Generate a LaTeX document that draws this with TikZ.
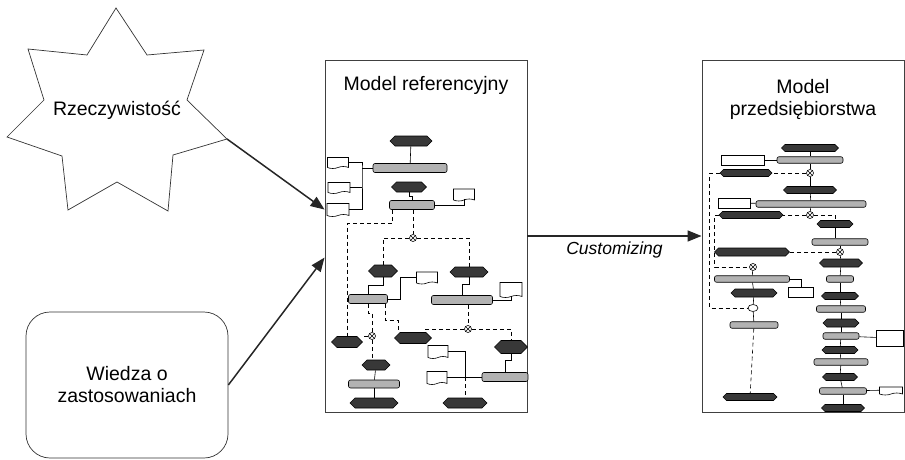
\documentclass[tikz,border=0pt]{standalone}
\usepackage{fontspec}
\setmainfont{Liberation Sans}
\usetikzlibrary{positioning,calc,arrows.meta,shapes.geometric,shapes.symbols}
\tikzset{
	lbl/.style={font=\fontsize{19.5}{22}\selectfont, align=center, inner sep=0pt},
	cust/.style={font=\itshape\fontsize{17.5}{20}\selectfont, inner sep=0pt},
	outl/.style={draw=black!80, line width=0.7pt},
	box/.style={draw=black!75, line width=0.9pt, minimum width=202pt, minimum height=352pt, inner sep=0pt},
	arr/.style={line width=1.5pt, draw=black!85, -{Triangle[length=14pt,width=11pt]}},
	ev/.style={signal, signal to=east and west, draw=black, fill=black!78, inner sep=0pt, minimum height=10pt},
	evs/.style={ev, minimum height=7pt},
	fn/.style={draw=black, fill=black!30, rounded corners=2pt, inner sep=0pt, minimum height=9pt},
	fns/.style={fn, minimum height=6.5pt},
	doc/.style={tape, tape bend top=none, tape bend height=2pt, draw, fill=white, inner sep=0pt},
	folder/.style={draw, fill=white, inner sep=0pt},
	xor/.style={circle, draw, fill=white, inner sep=0pt, minimum size=7pt,
		path picture={\draw[line width=0.4pt] (path picture bounding box.north west) -- (path picture bounding box.south east)
			(path picture bounding box.north east) -- (path picture bounding box.south west);}},
	orx/.style={ellipse, draw, fill=white, inner sep=0pt, minimum width=10pt, minimum height=7pt},
	dsh/.style={dash pattern=on 4pt off 3pt},
}

\begin{document}
\begin{tikzpicture}[x=1pt, y=-1pt]
\useasboundingbox (0,0) rectangle (905,460);

\draw[outl] (116,8) -- (147,55) -- (204,50) -- (187,100) -- (227,139) -- (173,155) -- (168,211)
	-- (117,182) -- (68,210) -- (62,156) -- (7,137) -- (44,100) -- (28,49) -- (87,55) -- cycle;
\coordinate (realtip) at (227,139);
\node[lbl] (realtxt) at (117,110) {Rzeczywisto\'s\'c};
\node[outl, rounded corners=24pt, minimum width=202pt, minimum height=146pt, lbl] (know) at (127,385) {Wiedza o\\zastosowaniach};

\node[box] (refm) at (426,236) {};
\node[box] (ent) at (803,236) {};
\node[lbl, below=17pt of refm.north] (refttl) {Model referencyjny};
\node[lbl, below=20pt of ent.north] (entttl) {Model\\przedsiębiorstwa};

\coordinate (in1) at ($(refm.north west)+(0,150)$);
\coordinate (in2) at ($(refm.north west)+(0,198)$);
\draw[arr] (realtip) -- (in1);
\draw[arr] (know.east) -- (in2);
\draw[arr] (refm.east) -- node[below=5pt, cust] (custlbl) {Customizing} (ent.west);

\begin{scope}[line width=0.6pt]
% Model referencyjny
\node[ev, minimum width=42pt] (re1) at (411,141) {};
\node[fn, minimum width=74pt] (rf1) at (410,168) {};
\node[doc, minimum width=21pt, minimum height=11pt] (rd1) at (338,162) {};
\node[doc, minimum width=22pt, minimum height=11pt] (rd2) at (339,187) {};
\node[doc, minimum width=22pt, minimum height=13pt] (rd3) at (338,209) {};
\node[ev, minimum width=35pt] (re2) at (409,187) {};
\node[fn, minimum width=45pt] (rf2) at (412,205) {};
\node[doc, minimum width=21pt, minimum height=12pt] (rd4) at (464,194) {};
\node[xor] (rx1) at (413,238) {};
\node[ev, minimum width=29pt, minimum height=12pt] (re3) at (383,271) {};
\node[ev, minimum width=38pt] (re4) at (469,272) {};
\node[fn, minimum width=39pt] (rf3) at (368,299) {};
\node[doc, minimum width=21pt, minimum height=12pt] (rd5) at (427,277) {};
\node[fn, minimum width=61pt] (rf4) at (462,300) {};
\node[doc, minimum width=22pt, minimum height=15pt] (rd6) at (511,289) {};
\node[ev, minimum width=31pt, minimum height=11pt] (re5) at (347,342) {};
\node[xor] (rx2) at (372,336) {};
\node[ev, minimum width=28pt] (re6) at (376,365) {};
\node[fn, minimum width=51pt, minimum height=8pt] (rf5) at (374,384) {};
\node[ev, minimum width=48pt] (re7) at (374,403) {};
\node[ev, minimum width=37pt, minimum height=11pt] (re8) at (413,338) {};
\node[xor] (rx3) at (468,329) {};
\node[ev, minimum width=33pt, minimum height=13pt] (re9) at (511,347) {};
\node[fn, minimum width=46pt] (rf6) at (505,377) {};
\node[doc, minimum width=20pt, minimum height=13pt] (rd7) at (438,351) {};
\node[doc, minimum width=20pt, minimum height=13pt] (rd8) at (437,377) {};
\node[ev, minimum width=44pt] (re10) at (465,403) {};

\coordinate (rbus) at (362,168);
\coordinate (rbus2) at (465,377);
\draw (re1) -- (rf1);
\draw (rf1.west) -- (rbus);
\draw (rd1.east) -| (rbus) |- (rd3.east);
\draw (rd2.east) -- (rd2.east -| rbus);
\draw (re2.south) -- ++(0,4) -| (rf2.north);
\draw (rf2.east) -| (rd4.south);
\draw[dsh] (rf2.south -| rx1) -- (rx1.north);
\draw[dsh] (rx1.west) -| (re3.north);
\draw[dsh] (rx1.east) -| (re4.north);
\draw[dsh] ($(rf2.south west)+(3,0)$) |- ($(re5.north)+(0,-113)$) -- (re5.north);
\draw (re3.south) -- ++(0,8) -| (rf3.north);
\draw (rf3.east) -- ++(12,0) |- (rd5.west);
\draw (re4.south) -- ++(0,7) -| (rf4.north);
\draw (rf4.east) -| (rd6.south);
\draw[dsh] (rf3.south) -- ++(0,9) -| (rx2.north);
\draw[dsh] (rx2.west) -- (rx2.west -| re5.east);
\draw[dsh] (rx2.south) -- (rx2.south |- re6.north);
\draw (re6) -- (rf5);
\draw (rf5) -- (re7);
\draw[dsh] ($(rf3.south)+(17,0)$) |- ($(re8.north)+(-15,-12)$) -- ($(re8.north)+(-15,0)$);
\draw[dsh] (rf4.south -| rx3) -- (rx3.north);
\draw[dsh] (rx3.west) -| ($(re8.north)+(12,0)$);
\draw[dsh] (rx3.east) -| (re9.north);
\draw (re9.south) -- ++(0,6) -| (rf6.north);
\draw (rd8.east) -- (rf6.west);
\draw (rd7.east) -| (rbus2);
\draw[dsh] (rbus2) -- (re10.north);

% Model przedsiebiorstwa
\node[evs, minimum width=57pt] (ee1) at (810,148) {};
\node[fns, minimum width=66pt] (ef1) at (810,160) {};
\node[folder, minimum width=43pt, minimum height=10pt] (ed1) at (743,160) {};
\node[xor] (ex1) at (810,173) {};
\node[evs, minimum width=52pt] (ee2) at (746,173) {};
\node[evs, minimum width=53pt] (ee3) at (810,190) {};
\node[fns, minimum width=110pt] (ef2) at (811,204) {};
\node[folder, minimum width=32pt, minimum height=10pt] (ed2) at (734,203) {};
\node[xor] (ex2) at (810,215) {};
\node[evs, minimum width=64pt] (ee4) at (751,215) {};
\node[evs, minimum width=36pt] (ee5) at (835,224) {};
\node[fns, minimum width=56pt] (ef3) at (840,242) {};
\node[xor] (ex3) at (840,252) {};
\node[evs, minimum width=75pt, minimum height=8pt] (ee6) at (752,252) {};
\node[xor] (ex4) at (753,267) {};
\node[fns, minimum width=75pt] (ef4) at (752,279) {};
\node[folder, minimum width=25pt, minimum height=10pt] (ed4) at (801,292) {};
\node[evs, minimum width=46pt, minimum height=8pt] (ee7) at (754,293) {};
\node[orx] (ex5) at (753,308) {};
\node[fns, minimum width=48pt] (ef5) at (754,325) {};
\node[evs, minimum width=54pt] (ee8) at (750,397) {};
\node[evs, minimum width=43pt, minimum height=8pt] (ee9) at (841,263) {};
\node[fns, minimum width=27pt] (ef6) at (840,279) {};
\node[evs, minimum width=37pt] (ee10) at (840,296) {};
\node[fns, minimum width=49pt] (ef7) at (841,309) {};
\node[evs, minimum width=36pt, minimum height=8pt] (ee11) at (841,323) {};
\node[fns, minimum width=36pt] (ef8) at (841,336) {};
\node[folder, minimum width=27pt, minimum height=16pt] (ed8) at (890,338) {};
\node[evs, minimum width=36pt] (ee12) at (840,350) {};
\node[fns, minimum width=54pt] (ef9) at (841,362) {};
\node[evs, minimum width=35pt] (ee13) at (840,377) {};
\node[fns, minimum width=47pt] (ef10) at (843,391) {};
\node[doc, minimum width=23pt, minimum height=8pt] (ed10) at (891,390) {};
\node[evs, minimum width=43pt] (ee14) at (843,408) {};

\draw (ee1) -- (ef1);
\draw (ef1) -- (ex1);
\draw (ex1) -- (ee3);
\draw (ee3) -- (ef2);
\draw (ef2) -- (ex2);
\draw (ed1) -- (ef1);
\draw (ed2) -- (ef2);
\draw[dsh] (ex1) -- (ee2);
\draw[dsh] (ee2.west) -- ++(-10,0) |- (ex5.west);
\draw[dsh] (ex2) -- (ee4);
\draw[dsh] (ex2.east) -| (ee5.north);
\draw (ee5.south) -- (ee5.south |- ef3.north);
\draw (ef3) -- (ex3);
\draw[dsh] (ex3) -- (ee6);
\draw[dsh] (ee4.west) -- ++(-4,0) |- (ex4.west);
\draw (ex4) -- (ef4);
\draw (ef4) -- (ee7);
\draw (ee7) -- (ex5);
\draw (ex5) -- (ef5);
\draw[dsh] (ef5) -- (ee8);
\draw (ef4.east) -| (ed4.north);
\foreach \a/\b in {ex3/ee9, ee9/ef6, ef6/ee10, ee10/ef7, ef7/ee11, ee11/ef8, ef8/ee12, ee12/ef9, ef9/ee13, ee13/ef10, ef10/ee14}
	\draw (\a) -- (\b);
\draw (ef8) -- (ed8);
\draw (ef10) -- (ed10);
\end{scope}
\end{tikzpicture}
\end{document}
